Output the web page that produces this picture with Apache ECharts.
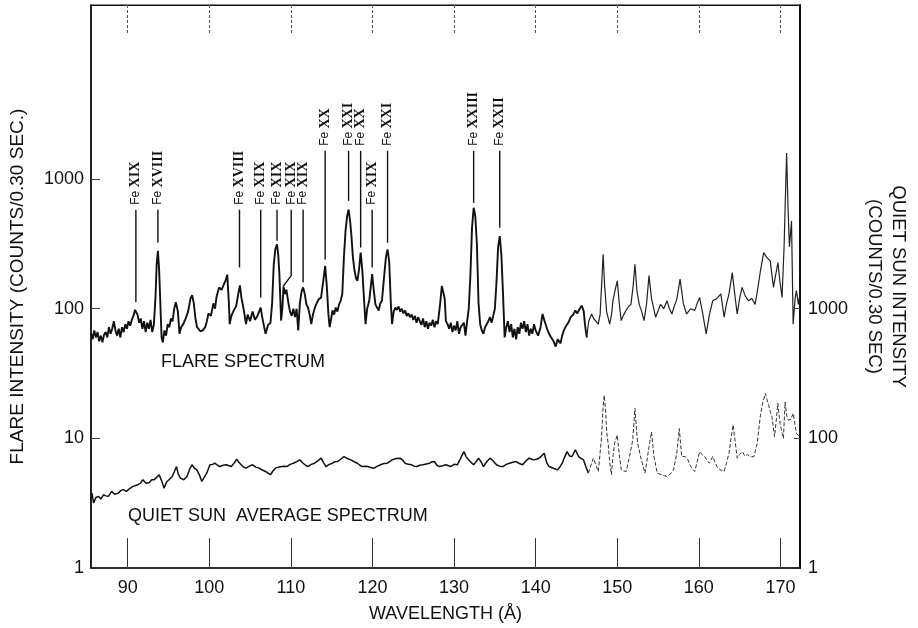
<!DOCTYPE html>
<html>
<head>
<meta charset="utf-8">
<script src="https://cdn.jsdelivr.net/npm/echarts@6/dist/echarts.min.js"></script>
<style>
html,body{margin:0;padding:0;background:#fff;}
#chart{width:918px;height:628px;}
</style>
</head>
<body>
<div id="chart"></div>
<script>
// ---------- DATA ----------
// wavelength (Å), flare intensity (counts / 0.30 s)
const flareSpectrum = [
[85.5,65],[85.7,58],[85.9,68],[86.1,60],[86.3,66],[86.5,56],[86.7,62],[86.9,55],[87.1,63],[87.3,66],
[87.5,60],[87.7,72],[87.9,64],[88.1,70],[88.3,80],[88.5,68],[88.7,62],[88.9,70],[89.1,60],[89.3,72],
[89.5,66],[89.7,76],[89.9,70],[90.1,80],[90.3,74],[90.5,82],[90.7,88],[90.9,98],[91.05,100],[91.2,90],
[91.4,78],[91.6,84],[91.8,70],[92.0,80],[92.2,66],[92.4,78],[92.6,70],[92.8,82],[93.0,66],[93.2,75],
[93.4,120],[93.55,220],[93.7,280],[93.85,200],[94.0,110],[94.15,60],[94.3,55],[94.5,68],[94.7,62],[94.9,76],
[95.1,72],[95.3,84],[95.5,80],[95.7,100],[95.9,112],[96.0,116],[96.15,95],[96.35,64],[96.55,72],[96.8,76],
[97.1,84],[97.4,95],[97.7,120],[97.9,127],[98.1,110],[98.3,84],[98.5,72],[98.7,70],[98.9,67],[99.2,68],
[99.5,72],[99.7,80],[99.9,92],[100.2,88],[100.5,110],[100.7,100],[100.9,125],[101.2,146],[101.5,140],[101.8,155],
[102.0,165],[102.2,183],[102.4,110],[102.5,76],[102.7,88],[103.0,97],[103.3,105],[103.55,130],[103.75,151],[103.95,120],
[104.2,100],[104.5,76],[104.7,90],[105.0,80],[105.3,95],[105.6,82],[105.9,88],[106.1,95],[106.3,102],[106.5,85],
[106.9,64],[107.2,75],[107.5,78],[107.7,110],[107.9,220],[108.1,290],[108.3,314],[108.45,260],[108.6,180],[108.8,81],
[108.95,100],[109.1,148],[109.3,130],[109.45,140],[109.7,110],[109.9,95],[110.1,88],[110.3,100],[110.5,86],[110.7,100],
[110.9,68],[111.1,110],[111.3,135],[111.5,146],[111.7,130],[111.9,108],[112.1,102],[112.3,90],[112.5,76],[112.7,90],
[112.9,100],[113.1,108],[113.4,118],[113.7,122],[113.95,160],[114.2,214],[114.4,150],[114.6,90],[114.75,72],[114.95,85],
[115.1,97],[115.3,90],[115.5,102],[115.7,95],[115.9,108],[116.1,115],[116.3,130],[116.5,250],[116.7,400],[116.9,520],
[117.07,582],[117.25,480],[117.4,380],[117.6,250],[117.8,196],[118.0,170],[118.15,164],[118.35,200],[118.55,271],[118.75,200],
[118.95,122],[119.15,76],[119.35,100],[119.6,115],[119.8,150],[119.96,185],[120.15,140],[120.36,108],[120.56,102],[120.76,97],
[120.96,110],[121.16,115],[121.4,170],[121.65,250],[121.85,287],[122.05,230],[122.25,110],[122.4,76],[122.6,95],[122.8,102],
[123.0,98],[123.2,104],[123.4,95],[123.6,100],[123.8,92],[124.0,97],[124.2,88],[124.4,92],[124.6,86],[124.8,90],
[125.0,82],[125.2,88],[125.4,78],[125.6,86],[125.8,80],[126.0,75],[126.2,84],[126.4,72],[126.6,80],[126.8,70],
[127.0,78],[127.2,74],[127.4,82],[127.6,72],[127.8,80],[128.0,76],[128.3,110],[128.5,150],[128.67,155],[128.85,120],
[129.0,80],[129.2,76],[129.4,70],[129.6,78],[129.8,66],[130.0,74],[130.2,68],[130.4,80],[130.6,64],[130.8,72],
[131.0,70],[131.2,78],[131.4,62],[131.6,80],[131.8,100],[132.0,180],[132.2,420],[132.4,600],[132.6,520],[132.8,314],
[133.0,110],[133.2,76],[133.4,68],[133.6,64],[133.8,72],[134.0,70],[134.2,80],[134.4,86],[134.6,78],[134.8,88],
[135.0,100],[135.2,160],[135.4,300],[135.6,363],[135.8,260],[136.0,130],[136.2,60],[136.4,72],[136.6,80],[136.8,66],
[137.0,76],[137.2,60],[137.4,70],[137.6,58],[137.8,72],[138.0,64],[138.2,78],[138.4,70],[138.6,80],[138.8,66],
[139.0,76],[139.2,62],[139.4,70],[139.6,64],[139.8,76],[140.0,68],[140.3,62],[140.6,72],[140.84,91],[141.1,80],
[141.4,70],[141.64,64],[141.9,60],[142.2,56],[142.45,51],[142.7,58],[143.05,54],[143.25,62],[143.45,68],[143.75,74],
[144.05,79],[144.3,86],[144.6,90],[144.86,97],[145.1,92],[145.4,100],[145.66,106],[145.9,95],[146.05,75],[146.26,60],
[146.5,80],[146.86,91],[147.1,84],[147.4,80],[147.67,76],[147.9,90],[148.1,160],[148.27,263],[148.45,150],[148.7,95],
[149.07,76],[149.3,90],[149.47,115],[149.75,140],[150.0,164],[150.25,110],[150.48,81],[150.8,90],[151.08,97],[151.4,104],
[151.68,108],[151.95,150],[152.17,220],[152.4,140],[152.69,108],[153.0,95],[153.29,81],[153.6,110],[153.89,180],[154.2,120],
[154.7,86],[155.0,96],[155.3,108],[155.7,100],[156.1,115],[156.4,100],[156.7,91],[157.0,105],[157.3,118],[157.7,169],
[158.1,110],[158.5,91],[159.0,100],[159.5,97],[159.8,110],[160.1,122],[160.5,90],[160.9,64],[161.3,90],[161.7,115],
[162.2,120],[162.7,130],[163.1,86],[163.4,110],[163.7,130],[164.1,190],[164.4,130],[164.7,91],[165.0,120],[165.3,146],
[165.7,125],[166.1,115],[166.5,120],[166.9,108],[167.2,140],[167.55,196],[167.95,271],[168.3,250],[168.75,234],[169.15,146],
[169.4,180],[169.7,227],[169.95,160],[170.2,122],[170.45,300],[170.65,900],[170.76,1585],[170.9,700],[171.1,300],[171.36,474],
[171.56,76],[171.8,120],[171.96,138],[172.2,108],[172.4,130]
];

// wavelength (Å), quiet-sun average intensity (left-axis units)
const quietSpectrum = [
[85.5,3.5],[85.62,3.78],[85.82,3.17],[86.1,3.5],[86.43,3.57],[86.7,3.4],[87.03,3.67],[87.3,3.6],[87.63,3.57],[88.03,3.9],
[88.4,3.7],[88.84,3.78],[89.14,3.95],[89.44,4.02],[89.84,3.9],[90.24,4.1],[90.64,4.26],[91.25,4.39],[91.55,4.5],[91.85,4.79],
[92.25,4.5],[92.65,4.57],[92.95,4.8],[93.25,4.79],[93.55,5.0],[93.86,5.24],[94.16,4.7],[94.46,4.13],[94.76,4.6],[95.06,4.79],
[95.46,5.08],[95.98,6.06],[96.2,5.3],[96.47,4.93],[96.87,4.79],[97.27,5.08],[97.6,5.8],[97.87,6.25],[98.17,5.9],[98.47,5.71],
[98.8,5.2],[99.08,4.65],[99.38,5.0],[99.68,5.39],[100.08,6.25],[100.4,6.3],[100.68,6.43],[101.0,6.2],[101.29,6.06],[101.7,6.2],
[102.09,6.25],[102.69,6.06],[103.0,6.4],[103.37,6.9],[103.65,6.5],[103.9,6.25],[104.2,6.0],[104.5,5.89],[104.9,6.1],[105.3,6.25],
[105.7,6.0],[106.1,5.89],[106.5,5.7],[106.9,5.55],[107.2,5.4],[107.5,5.24],[107.8,5.6],[108.1,5.89],[108.5,6.0],[108.9,6.06],
[109.2,6.1],[109.5,6.06],[109.9,6.3],[110.3,6.43],[110.7,6.6],[111.1,6.82],[111.5,6.43],[111.8,6.2],[112.1,6.06],[112.5,6.3],
[112.9,6.43],[113.3,6.7],[113.7,7.03],[114.0,6.5],[114.3,6.06],[114.7,6.3],[115.1,6.43],[115.4,6.6],[115.7,6.62],[116.1,6.9],
[116.5,7.24],[116.9,7.0],[117.35,6.82],[117.75,6.6],[118.15,6.43],[118.45,6.2],[118.75,6.06],[119.1,6.1],[119.4,6.06],[119.8,5.95],
[120.2,5.89],[120.6,6.1],[121.0,6.25],[121.4,6.4],[121.8,6.43],[122.1,6.6],[122.4,6.82],[122.9,7.0],[123.4,7.03],[123.7,6.8],
[124.0,6.43],[124.4,6.3],[124.8,6.25],[125.1,6.1],[125.4,6.06],[125.8,6.2],[126.2,6.25],[126.6,6.35],[127.0,6.43],[127.3,6.6],
[127.6,6.62],[127.9,6.2],[128.2,6.06],[128.6,6.15],[129.0,6.25],[129.6,6.06],[130.0,6.3],[130.4,6.25],[130.8,7.0],[131.2,7.9],
[131.5,7.2],[131.8,6.82],[132.1,6.5],[132.4,6.25],[132.7,6.6],[133.0,7.03],[133.3,6.6],[133.6,6.06],[134.0,6.6],[134.4,7.03],
[134.8,6.7],[135.2,6.25],[135.6,6.1],[136.0,6.06],[136.4,6.3],[136.8,6.43],[137.2,6.55],[137.6,6.62],[138.0,6.4],[138.4,6.25],
[138.8,6.7],[139.2,7.03],[139.5,6.9],[139.8,6.82],[140.1,6.9],[140.4,7.03],[140.7,7.3],[141.05,7.68],[141.35,6.5],[141.65,6.06],
[142.1,5.9],[142.66,5.71],[142.96,6.0],[143.26,6.43],[143.56,7.2],[143.86,7.9],[144.16,7.3],[144.46,7.24],[144.86,8.15],[145.27,7.24],
[145.57,7.0],[145.87,6.82],[146.17,6.0],[146.47,5.39],[146.77,6.2],[147.07,7.03],[147.4,6.2],[147.68,5.55],[147.88,7.5],[148.08,10.3],
[148.25,17],[148.4,21.5],[148.56,16.5],[148.72,11],[148.88,9.16],[149.08,6.5],[149.28,5.24],[149.5,7.5],[149.68,9.16],[150.0,10.6],
[150.25,7.5],[150.5,5.71],[150.8,5.6],[151.1,5.55],[151.5,7.24],[151.9,9.7],[152.17,17],[152.35,12],[152.5,9.16],[152.9,7.03],
[153.4,5.39],[153.9,8.63],[154.2,11.2],[154.5,7.24],[154.9,5.39],[155.2,5.3],[155.5,5.24],[155.8,5.15],[156.1,5.08],[156.5,5.3],
[156.9,5.71],[157.3,7.68],[157.6,11.9],[157.9,7.24],[158.3,7.24],[158.6,7.0],[158.9,6.25],[159.2,5.8],[159.5,5.55],[160.1,7.9],
[160.4,7.5],[160.7,7.24],[161.0,6.8],[161.3,6.43],[161.7,7.24],[162.0,6.5],[162.3,5.9],[162.7,5.7],[163.1,5.55],[163.4,6.5],
[163.7,7.68],[163.95,10],[164.2,12.7],[164.45,9.5],[164.7,7.03],[165.0,7.5],[165.35,7.9],[165.65,7.3],[165.95,7.5],[166.35,7.2],
[166.75,7.24],[167.15,9.16],[167.55,15.1],[167.85,19],[168.15,22.2],[168.35,20],[168.56,18.0],[168.76,16],[168.96,14.7],[169.28,10.3],
[169.5,14],[169.68,18.6],[169.96,13.0],[170.2,11],[170.37,10],[170.57,19.1],[170.77,15],[170.97,13.8],[171.27,14],[171.57,15.6],
[171.97,10.9],[172.37,10.3]
];

// identified lines: wavelength, ion stage, top of the line marker (flare units), label tier
const ionLabels = ['XIX','XVIII','XVIII','XIX','XIX','XIX','XIX','XX','XXI','XX','XIX','XXI','XXIII','XXII'];
const ionWavelengths = [91.0,93.7,103.7,106.3,108.3,110.04,111.5,114.2,117.07,118.55,119.96,121.85,132.4,135.6];
const ionMarkerEnd = [112,323,208,122,335,180,160,240,679,296,208,323,656,421];
const ionTier = ['low','low','low','low','low','low','low','high','high','high','low','high','high','high'];
// the 110 Å marker bends towards the 109.05 Å peak
const ionBend = {5: [109.05,149]};

const xTicks = [90,100,110,120,130,140,150,160,170];
const leftTicks = [1,10,100,1000];
const rightTicks = [10,100,1000];
const rightTickText = {10:'1',100:'100',1000:'1000'};

// split points where the original trace becomes faint
const FLARE_SOLID_END = 146.26;
const QUIET_SOLID_END = 146.47;

// ---------- CHART ----------
const FONT = "'Liberation Sans', Arial, sans-serif";
const chart = echarts.init(document.getElementById('chart'), null, {renderer:'canvas'});

const ROW_LOW = 580;    // flare units where low-tier markers start
const ROW_HIGH = 1650;  // flare units where high-tier markers start

const labelData = ionWavelengths.map((w,i)=>[w, ionMarkerEnd[i], i]);

const option = {
  animation: false,
  backgroundColor: '#fff',
  grid: {left: 91, right: 106, top: 5, bottom: 56, show: true, borderColor: '#111', borderWidth: 1.2, containLabel: false},
  xAxis: [{
    type: 'value', min: 85.5, max: 172.4, position: 'bottom',
    name: 'WAVELENGTH (Å)', nameLocation: 'middle', nameGap: 37,
    nameTextStyle: {fontFamily: FONT, fontSize: 18, color: '#111'},
    axisLine: {show: true, lineStyle: {color: '#111', width: 1.6}},
    axisTick: {show: true, inside: true, length: 30, customValues: xTicks, lineStyle: {color: '#333', width: 1}},
    axisLabel: {customValues: xTicks, fontFamily: FONT, fontSize: 18, color: '#111', margin: 11},
    splitLine: {show: false}
  },{
    type: 'value', min: 85.5, max: 172.4, position: 'top',
    axisLine: {show: true, lineStyle: {color: '#111', width: 1}},
    axisTick: {show: true, inside: true, length: 30, customValues: xTicks, lineStyle: {color: '#555', width: 1, type: [3,2]}},
    axisLabel: {show: false},
    splitLine: {show: false}
  }],
  yAxis: [{
    type: 'log', logBase: 10, min: 1, max: 22000, position: 'left',
    name: 'FLARE INTENSITY (COUNTS/0.30 SEC.)', nameLocation: 'middle', nameGap: 64,
    nameTextStyle: {fontFamily: FONT, fontSize: 19, color: '#111'},
    axisLine: {show: true, lineStyle: {color: '#111', width: 1.6}},
    axisTick: {show: true, inside: true, length: 9, customValues: [10,100,1000], lineStyle: {color: '#444', width: 1}},
    axisLabel: {customValues: leftTicks, formatter: v => String(Math.round(v)), fontFamily: FONT, fontSize: 18, color: '#111', margin: 7},
    splitLine: {show: false}
  },{
    type: 'log', logBase: 10, min: 10, max: 220000, position: 'right',
    name: 'QUIET SUN INTENSITY\n(COUNTS/0.30 SEC)', nameLocation: 'middle', nameGap: 62, nameRotate: -90,
    nameTextStyle: {fontFamily: FONT, fontSize: 18.5, color: '#111', lineHeight: 24},
    axisLine: {show: true, lineStyle: {color: '#111', width: 2}},
    axisTick: {show: true, inside: true, length: 6, customValues: [100,1000], lineStyle: {color: '#444', width: 1}},
    axisLabel: {customValues: rightTicks, formatter: v => rightTickText[Math.round(v)] || '', fontFamily: FONT, fontSize: 18, color: '#111', margin: 8},
    splitLine: {show: false}
  }],
  series: [{
    type: 'line', name: 'flare', symbol: 'none', xAxisIndex: 0, yAxisIndex: 0,
    data: flareSpectrum.filter(p => p[0] <= FLARE_SOLID_END),
    lineStyle: {color: '#111', width: 1.9}, z: 3
  },{
    type: 'line', name: 'flare-faint', symbol: 'none', xAxisIndex: 0, yAxisIndex: 0,
    data: flareSpectrum.filter(p => p[0] >= FLARE_SOLID_END),
    lineStyle: {color: '#222', width: 1.2}, z: 3
  },{
    type: 'line', name: 'quiet', symbol: 'none', xAxisIndex: 0, yAxisIndex: 0,
    data: quietSpectrum.filter(p => p[0] <= QUIET_SOLID_END),
    lineStyle: {color: '#111', width: 1.5}, z: 3
  },{
    type: 'line', name: 'quiet-faint', symbol: 'none', xAxisIndex: 0, yAxisIndex: 0,
    data: quietSpectrum.filter(p => p[0] >= QUIET_SOLID_END),
    lineStyle: {color: '#333', width: 1, type: [4,2]}, z: 3
  },{
    type: 'custom', name: 'lines', xAxisIndex: 0, yAxisIndex: 0, z: 4,
    data: labelData,
    renderItem: function(params, api){
      const i = api.value(2);
      const w = api.value(0);
      const bottom = api.coord([w, api.value(1)]);
      const top = api.coord([w, ionTier[i] === 'high' ? ROW_HIGH : ROW_LOW]);
      const pts = [top, bottom];
      if (ionBend[i]) pts.push(api.coord(ionBend[i]));
      return {type: 'group', children: [
        {type: 'polyline', shape: {points: pts}, style: {stroke: '#111', lineWidth: 1.4, fill: null}},
        {type: 'text', x: top[0], y: top[1] - 5, rotation: Math.PI/2,
          style: {
            text: '{fe|Fe} {ion|' + ionLabels[i] + '}',
            align: 'left', verticalAlign: 'middle', fill: '#111',
            rich: {
              fe: {fontFamily: FONT, fontSize: 12, fill: '#111'},
              ion: {fontFamily: "'Liberation Serif', 'Times New Roman', serif", fontWeight: 'bold', fontSize: 14, fill: '#111'}
            }
          }}
      ]};
    }
  }],
  graphic: [
    {type: 'text', left: 161, top: 353, style: {text: 'FLARE SPECTRUM', font: "18px " + FONT, fill: '#111'}},
    {type: 'text', left: 128, top: 507, style: {text: 'QUIET SUN  AVERAGE SPECTRUM', font: "18px " + FONT, fill: '#111'}}
  ]
};
chart.setOption(option);
</script>
</body>
</html>
